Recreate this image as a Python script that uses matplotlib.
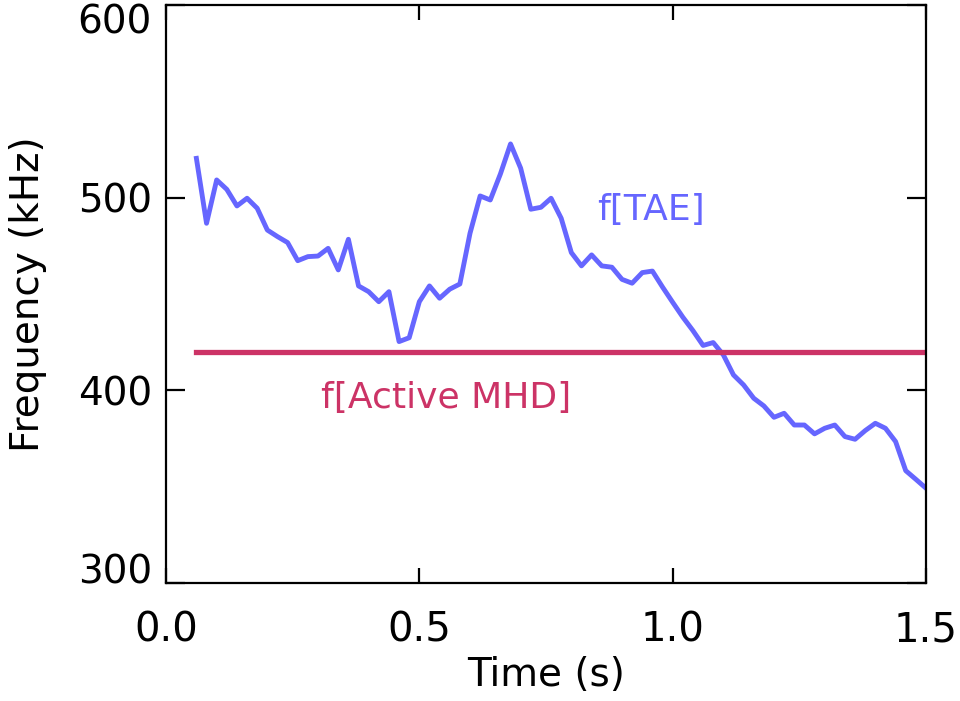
import numpy as np
import matplotlib
matplotlib.use("Agg")
import matplotlib.pyplot as plt
import matplotlib.transforms as mtransforms

time_s = [0.06, 0.08, 0.10, 0.12, 0.14, 0.16, 0.18, 0.20, 0.22, 0.24,
          0.26, 0.28, 0.30, 0.32, 0.34, 0.36, 0.38, 0.40, 0.42, 0.44,
          0.46, 0.48, 0.50, 0.52, 0.54, 0.56, 0.58, 0.60, 0.62, 0.64,
          0.66, 0.68, 0.70, 0.72, 0.74, 0.76, 0.78, 0.80, 0.82, 0.84,
          0.86, 0.88, 0.90, 0.92, 0.94, 0.96, 0.98, 1.00, 1.02, 1.04,
          1.06, 1.08, 1.10, 1.12, 1.14, 1.16, 1.18, 1.20, 1.22, 1.24,
          1.26, 1.28, 1.30, 1.32, 1.34, 1.36, 1.38, 1.40, 1.42, 1.44,
          1.46, 1.48, 1.50]
f_tae = [520.4, 486.7, 509.2, 504.3, 495.7, 499.7, 494.5, 483.2, 479.8, 476.7,
         467.3, 469.4, 469.7, 473.7, 462.5, 478.4, 454.2, 451.2, 446.0, 451.2,
         425.3, 427.3, 446.0, 454.2, 447.8, 452.5, 455.2, 481.5, 500.9, 498.8,
         512.3, 527.9, 515.3, 494.0, 495.0, 499.7, 489.3, 471.5, 464.6, 470.3,
         464.6, 463.9, 457.6, 455.6, 461.1, 461.9, 453.6, 445.7, 438.0, 431.0,
         423.3, 424.8, 418.4, 408.0, 402.8, 395.9, 391.9, 386.0, 388.1, 382.0,
         382.0, 377.4, 380.3, 382.0, 376.0, 374.6, 379.1, 382.9, 380.3, 373.4,
         358.3, 353.8, 349.2]
active_mhd_t = [0.06, 1.50]
active_mhd_f = [420.0, 420.0]

blue = "#6666FF"
red = "#CC3366"

plt.rcParams['font.family'] = ['DejaVu Sans']
fig = plt.figure(figsize=(9.6, 7.01), dpi=100)
ax = fig.add_axes([166/960, 1-583/701, (926-166)/960, (583-5)/701])

ax.plot(time_s, f_tae, color=blue, lw=3.5)
ax.plot(active_mhd_t, active_mhd_f, color=red, lw=3.8)

ax.text(0.958, 493.6, "f[TAE]", color=blue, fontsize=26, ha='center', va='center')
ax.text(0.553, 396, "f[Active MHD]", color=red, fontsize=26, ha='center', va='center')

ax.set_xlim(0, 1.5)
ax.set_ylim(300, 600)
ax.set_xticks([0.0, 0.5, 1.0, 1.5])
ax.set_xticklabels(["0.0", "0.5", "1.0", "1.5"])
ax.set_yticks([300, 400, 500, 600])
ax.set_yticklabels(["300", "400", "500", "600"])
ax.tick_params(axis='x', direction='in', length=11, width=1.6, top=True, labelsize=29, pad=20)
ax.tick_params(axis='y', direction='in', length=14, width=1.6, right=True, labelsize=28, pad=10)
for s in ax.spines.values():
    s.set_linewidth(1.6)
ax.set_xlabel("Time (s)", fontsize=28, labelpad=4)
ax.set_ylabel("Frequency (kHz)", fontsize=28, labelpad=22)

# nudge the end y tick labels inward, as in the reference
ylbls = ax.get_yticklabels()
ylbls[-1].set_transform(ylbls[-1].get_transform() +
                        mtransforms.ScaledTranslation(0, -13/100, fig.dpi_scale_trans))
ylbls[0].set_transform(ylbls[0].get_transform() +
                       mtransforms.ScaledTranslation(0, 15/100, fig.dpi_scale_trans))

fig.savefig("out.png", dpi=100)
